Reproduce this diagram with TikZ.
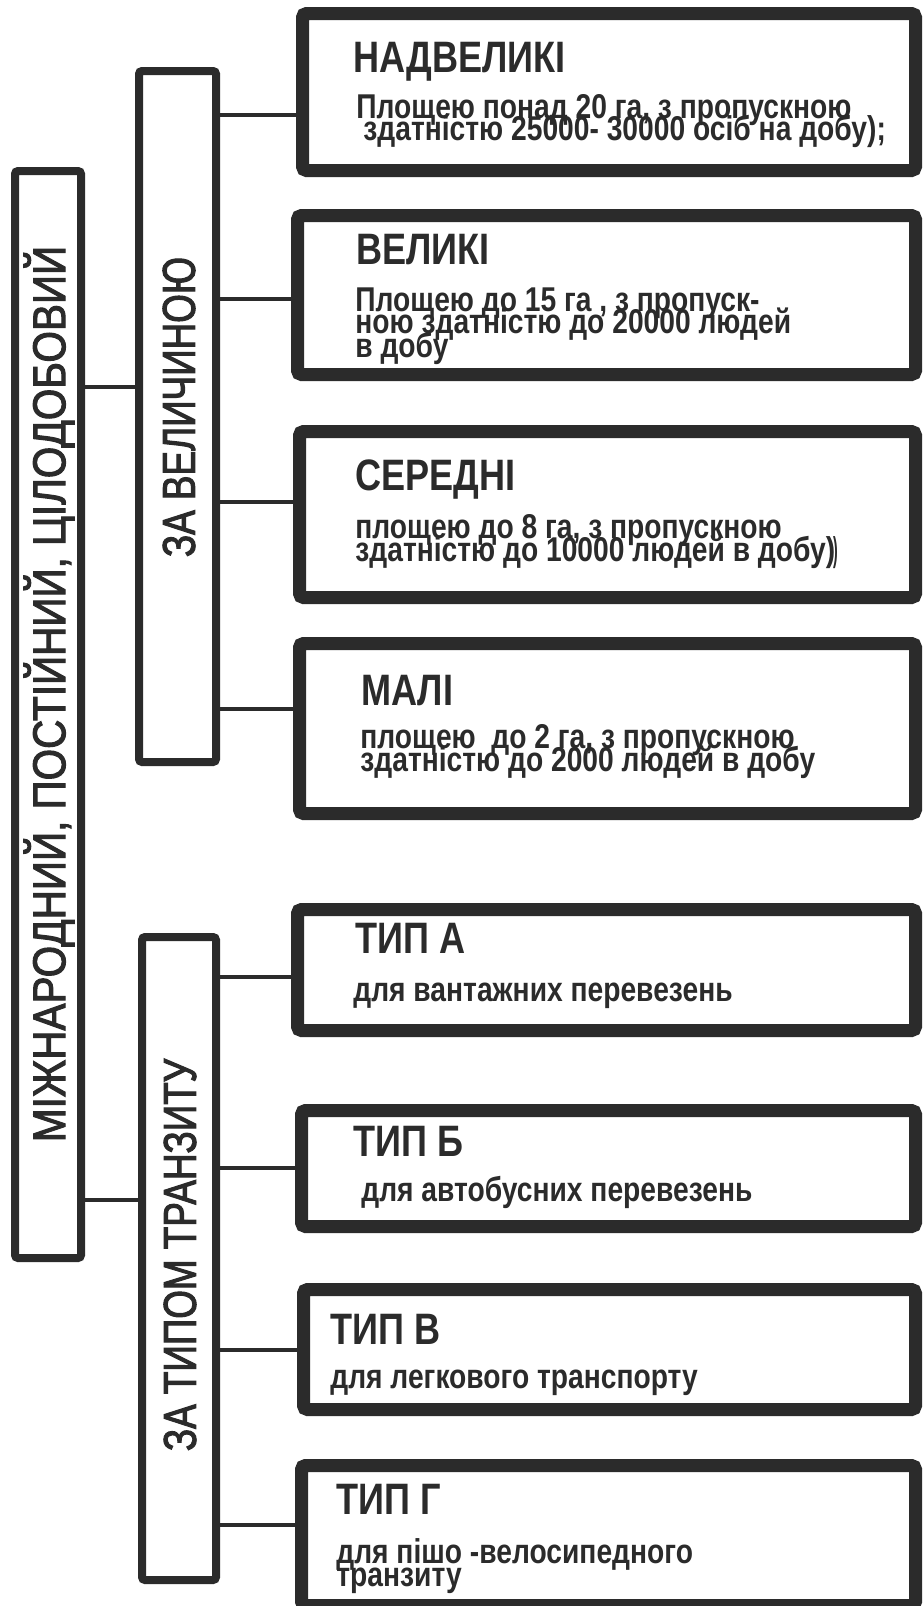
\documentclass[tikz,border=0pt]{standalone}
\usepackage{fontspec}
\newfontfamily\condbold[FakeStretch=0.82]{Liberation Sans Bold}
\newfontfamily\sidefont[FakeStretch=0.8,FakeBold=2.2]{Liberation Sans}
\newfontfamily\rootfont[FakeStretch=0.88,FakeBold=2.2]{Liberation Sans}
\definecolor{ink}{RGB}{43,43,43}
\begin{document}
\begin{tikzpicture}[x=0.5pt,y=-0.5pt,
  bigbox/.style={draw=ink, line width=6.5pt, rounded corners=2pt, inner sep=0pt, outer sep=0pt, anchor=north west},
  sidebox/.style={draw=ink, line width=4pt, rounded corners=1.5pt, inner sep=0pt, outer sep=0pt, anchor=north west},
  link/.style={draw=ink, line width=2pt},
  title/.style={text=ink, inner sep=0pt, anchor=base west, font=\condbold\fontsize{22pt}{22pt}\selectfont},
  body/.style={text=ink, inner sep=0pt, anchor=base west, font=\condbold\fontsize{17.2pt}{17.2pt}\selectfont},
  side/.style={text=ink, inner sep=0pt, anchor=center, rotate=90, font=\sidefont\fontsize{23pt}{23pt}\selectfont}]
\fill[white] (0,0) rectangle (922,1606);
\useasboundingbox (0,0) rectangle (922,1606);

% left column of classification boxes
\node[sidebox, minimum width=33pt, minimum height=543.5pt] (root) at (15,171) {};
\node[sidebox, minimum width=38.5pt, minimum height=345.5pt] (size) at (139,71) {};
\node[sidebox, minimum width=37pt, minimum height=321.5pt] (transit) at (142,937) {};

\node[side, font=\rootfont\fontsize{23pt}{23pt}\selectfont] (rootlbl) at (49,694) {МІЖНАРОДНИЙ, ПОСТІЙНИЙ, ЦІЛОДОБОВИЙ};
\node[side] (sizelbl) at (179,407) {ЗА ВЕЛИЧИНОЮ};
\node[side] (transitlbl) at (180,1255) {ЗА ТИПОМ ТРАНЗИТУ};

% junction levels
\coordinate (jr1) at (0,387);
\coordinate (jr2) at (0,1200);
\coordinate (js1) at (0,115);
\coordinate (js2) at (0,299);
\coordinate (js3) at (0,502);
\coordinate (js4) at (0,709);
\coordinate (jt1) at (0,977);
\coordinate (jt2) at (0,1168);
\coordinate (jt3) at (0,1350);
\coordinate (jt4) at (0,1525);

% size boxes
\node[bigbox, minimum width=306.5pt, minimum height=78.5pt] (b1) at (302.5,13.5) {};
\node[bigbox, minimum width=309pt, minimum height=79.5pt] (b2) at (297.5,215.5) {};
\node[bigbox, minimum width=308pt, minimum height=83pt] (b3) at (299.5,431.5) {};
\node[bigbox, minimum width=308pt, minimum height=85pt] (b4) at (299.5,643.5) {};
% transit boxes
\node[bigbox, minimum width=309pt, minimum height=60.5pt] (t1) at (297.5,909.5) {};
\node[bigbox, minimum width=307pt, minimum height=58pt] (t2) at (301.5,1110.5) {};
\node[bigbox, minimum width=306pt, minimum height=60pt] (t3) at (303.5,1289.5) {};
\node[bigbox, minimum width=307pt, minimum height=70pt] (t4) at (301.5,1465.5) {};

% connectors
\draw[link] (root.east |- jr1) -- (size.west |- jr1);
\draw[link] (root.east |- jr2) -- (transit.west |- jr2);
\draw[link] (size.east |- js1) -- (b1.west |- js1);
\draw[link] (size.east |- js2) -- (b2.west |- js2);
\draw[link] (size.east |- js3) -- (b3.west |- js3);
\draw[link] (size.east |- js4) -- (b4.west |- js4);
\draw[link] (transit.east |- jt1) -- (t1.west |- jt1);
\draw[link] (transit.east |- jt2) -- (t2.west |- jt2);
\draw[link] (transit.east |- jt3) -- (t3.west |- jt3);
\draw[link] (transit.east |- jt4) -- (t4.west |- jt4);

% texts of the size boxes
\node[title] (b1t) at (353,72) {НАДВЕЛИКІ};
\node[body] (b1a) at (356,118) {Площею понад 20 га, з пропускною};
\node[body] (b1b) at (363,140) {здатністю 25000- 30000 осіб на добу);};

\node[title] (b2t) at (356,264) {ВЕЛИКІ};
\node[body] (b2a) at (355,311) {Площею до 15 га , з пропуск-};
\node[body] (b2b) at (355,333) {ною здатністю до 20000 людей};
\node[body] (b2c) at (355,357) {в добу};

\node[title] (b3t) at (355,490) {СЕРЕДНІ};
\node[body] (b3a) at (355,538) {площею до 8 га, з пропускною};
\node[body] (b3b) at (355,561) {здатністю до 10000 людей в добу)\kern-1pt\scalebox{0.5}[1]{)}};

\node[title] (b4t) at (361,705) {МАЛІ};
\node[body] (b4a) at (360,748) {площею\ \ до 2 га, з пропускною};
\node[body] (b4b) at (360,771) {здатністю до 2000 людей в добу};

% texts of the transit boxes
\node[title] (t1t) at (355,953) {ТИП А};
\node[body] (t1a) at (353,1001) {для вантажних перевезень};

\node[title] (t2t) at (353,1156) {ТИП Б};
\node[body] (t2a) at (361,1201) {для автобусних перевезень};

\node[title] (t3t) at (330,1344) {ТИП В};
\node[body] (t3a) at (330,1388) {для легкового транспорту};

\node[title] (t4t) at (336,1514) {ТИП Г};
\node[body] (t4a) at (336,1563) {для пішо -велосипедного};
\node[body] (t4b) at (336,1586) {транзиту};
\end{tikzpicture}
\end{document}
